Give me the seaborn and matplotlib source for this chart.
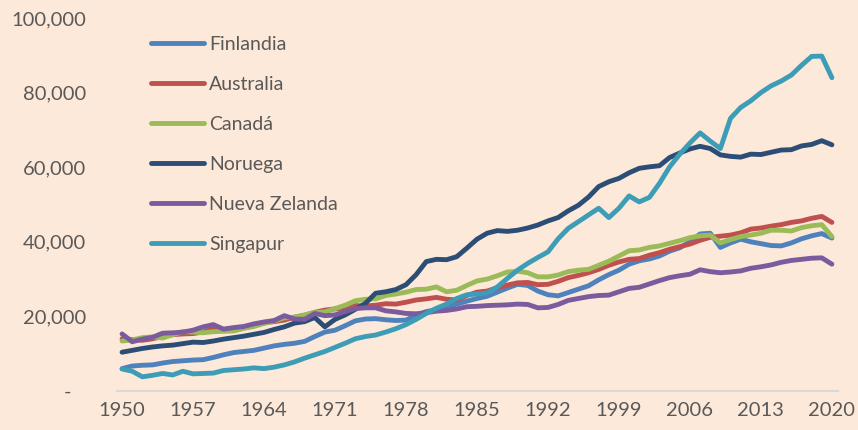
import numpy as np
import pandas as pd
import seaborn as sns
import matplotlib.pyplot as plt
from matplotlib.ticker import FuncFormatter

# Data
years = list(range(1950, 2021))

finlandia = [6000, 6700, 6900, 7000, 7500, 7900, 8100, 8300, 8400, 9000,
             9700, 10300, 10600, 10900, 11500, 12100, 12500, 12800, 13300, 14600,
             15800, 16300, 17500, 18800, 19300, 19400, 19100, 18900, 19000, 20300,
             21300, 21800, 22600, 23300, 24100, 24800, 25400, 26500, 27600, 28600,
             28300, 26800, 25800, 25500, 26400, 27300, 28200, 29800, 31200, 32400,
             34000, 34900, 35400, 36200, 37500, 38400, 40000, 42100, 42300, 38500,
             39700, 40700, 40000, 39500, 39000, 38900, 39700, 40800, 41600, 42200,
             41000]
australia = [14000, 13800, 13600, 14000, 14600, 15100, 15300, 15400, 15800, 16700,
             16500, 16200, 16900, 17500, 18300, 18600, 19000, 19800, 20300, 21100,
             21700, 22000, 22300, 22900, 22800, 23000, 23400, 23300, 23800, 24400,
             24700, 25100, 24600, 24400, 25600, 26500, 26800, 27700, 28400, 29000,
             29100, 28500, 28600, 29400, 30400, 31000, 31700, 32600, 33700, 34600,
             35300, 35500, 36400, 37100, 38000, 38700, 39400, 40400, 41200, 41500,
             41800, 42400, 43400, 43700, 44200, 44600, 45200, 45600, 46300, 46800,
             45200]
canada = [13400, 13700, 14300, 14500, 14200, 15100, 15900, 15800, 15600, 15900,
          16000, 16100, 16800, 17300, 18100, 18800, 19600, 19800, 20400, 21100,
          21200, 22100, 23000, 24200, 24600, 24700, 25600, 26000, 26500, 27200,
          27300, 27900, 26600, 27000, 28300, 29500, 30000, 30900, 31900, 32100,
          31700, 30600, 30600, 31100, 32000, 32400, 32600, 33700, 34800, 36200,
          37600, 37800, 38500, 38900, 39600, 40300, 41100, 41600, 41800, 39700,
          40600, 41400, 41800, 42300, 43100, 43100, 42900, 43800, 44300, 44600,
          41400]
noruega = [10400, 10900, 11400, 11800, 12100, 12300, 12700, 13100, 13000, 13400,
           13900, 14300, 14700, 15200, 15700, 16500, 17200, 18200, 18600, 19700,
           17200, 19200, 20400, 21900, 23500, 26200, 26600, 27200, 28500, 31200,
           34700, 35300, 35200, 36000, 38300, 40700, 42300, 43000, 42800, 43100,
           43700, 44500, 45600, 46500, 48300, 49800, 52000, 54800, 56100, 57000,
           58500, 59700, 60100, 60400, 62600, 63800, 64900, 65600, 65000, 63300,
           62900, 62700, 63500, 63400, 64000, 64600, 64700, 65700, 66100, 67100,
           66000]
nueva_zelanda = [15300, 13200, 13900, 14400, 15500, 15600, 15800, 16300, 17200, 17800,
                 16600, 17000, 17300, 18000, 18500, 18900, 20200, 19300, 19200, 20800,
                 20200, 20400, 21300, 22100, 22300, 22300, 21500, 21200, 20800, 20700,
                 21000, 21400, 21600, 22000, 22600, 22700, 22900, 23000, 23100, 23300,
                 23200, 22300, 22400, 23200, 24300, 24800, 25300, 25600, 25700, 26600,
                 27500, 27800, 28700, 29600, 30400, 30900, 31300, 32500, 32000, 31700,
                 31900, 32200, 32900, 33300, 33800, 34500, 35000, 35300, 35600, 35700,
                 34000]
singapur = [5900, 5300, 3800, 4200, 4700, 4300, 5300, 4600, 4700, 4800,
            5500, 5700, 5900, 6200, 6000, 6400, 7000, 7800, 8800, 9700,
            10600, 11700, 12800, 14000, 14600, 15000, 15800, 16700, 17800, 19200,
            20800, 22200, 23300, 24800, 25800, 26000, 26300, 27900, 30200, 32400,
            34200, 35800, 37300, 40800, 43600, 45400, 47200, 49000, 46500, 49000,
            52300, 50700, 51900, 55700, 60100, 63500, 66500, 69200, 67000, 65000,
            73100, 76000, 77800, 80000, 81800, 83100, 84700, 87300, 89700, 89800,
            84000]

countries = ['Finlandia', 'Australia', 'Canadá', 'Noruega', 'Nueva Zelanda', 'Singapur']
series = [finlandia, australia, canada, noruega, nueva_zelanda, singapur]
colors = ['#4F81BD', '#C0504D', '#9BBB59', '#2C4D75', '#7A5C9E', '#3E9DB6']
xticks = list(range(1950, 2021, 7))

df = pd.concat([pd.DataFrame({'year': years, 'value': s, 'country': c})
                for c, s in zip(countries, series)])

bg = '#FDE9D9'
txt = '#595959'

fig = plt.figure(figsize=(8.58, 4.3), dpi=100, facecolor=bg)
ax = fig.add_axes([117/858, 1 - 391/430, 721/858, 373/430])
ax.set_facecolor(bg)

sns.lineplot(data=df, x='year', y='value', hue='country', hue_order=countries,
             palette=colors, linewidth=3.5, ax=ax, solid_capstyle='round')

ax.set_xlim(1949.5, 2020.6)
ax.set_ylim(0, 100000)
ax.set_xticks(xticks)
ax.set_yticks(range(0, 100001, 20000))
ax.yaxis.set_major_formatter(FuncFormatter(lambda v, p: '-   ' if v == 0 else f'{int(v):,}'))
ax.set_xlabel('')
ax.set_ylabel('')

for s in ['top', 'right', 'left']:
    ax.spines[s].set_visible(False)
ax.spines['bottom'].set_color('#D9D9D9')
ax.spines['bottom'].set_linewidth(1.5)
ax.tick_params(axis='both', length=0, labelsize=14.5, labelcolor=txt)
ax.tick_params(axis='y', pad=22)
ax.tick_params(axis='x', pad=8)
for lab in ax.get_xticklabels() + ax.get_yticklabels():
    lab.set_fontfamily('Lato')

leg = ax.legend(loc='upper left', bbox_to_anchor=(151/858, 1 - 36/430),
                bbox_transform=fig.transFigure, frameon=False, handlelength=2.7,
                handletextpad=0.3, labelspacing=1.18, borderpad=0, borderaxespad=0,
                prop={'family': 'Lato', 'size': 14})
for t in leg.get_texts():
    t.set_color(txt)
for h in leg.get_lines():
    h.set_linewidth(3.5)
    h.set_solid_capstyle('round')

plt.savefig('out.png', dpi=100, facecolor=bg)
